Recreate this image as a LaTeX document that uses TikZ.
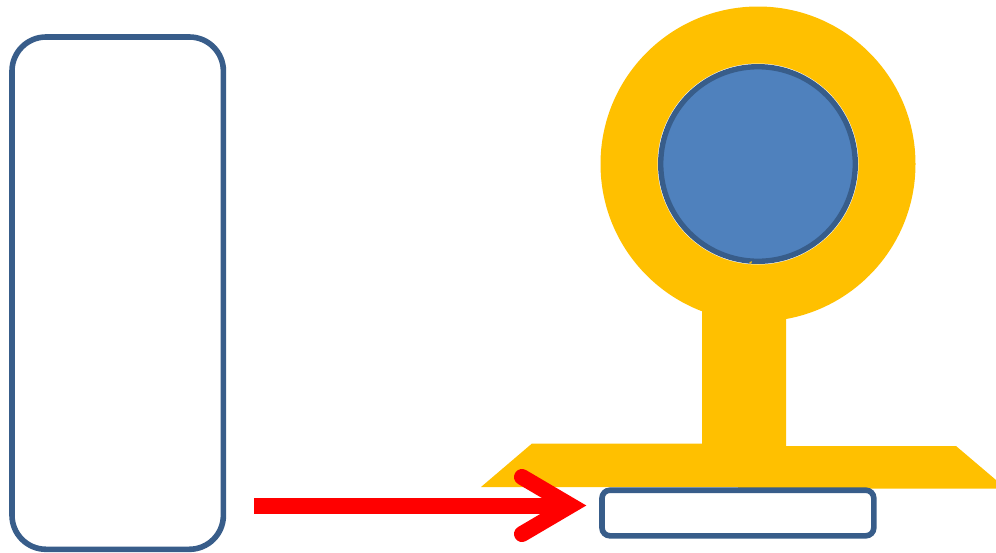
\documentclass[tikz,border=0pt]{standalone}
\definecolor{amber}{HTML}{FFC000}
\definecolor{edgeblue}{HTML}{385D8A}
\definecolor{fillblue}{HTML}{4F81BD}
\tikzset{
  outlinebox/.style={draw=edgeblue,fill=white,line width=5.6pt,rounded corners=#1},
  amberpart/.style={fill=amber,draw=none},
  redstroke/.style={draw=red,line width=16pt},
}
\begin{document}
\begin{tikzpicture}[x=1pt,y=-1pt]
\useasboundingbox (0,0) rectangle (996,552);
\clip (0,0) rectangle (996,552);
% left rounded box
\draw[outlinebox=34pt] (12,37) rectangle (223.4,549.3);
% key shape
\fill[amberpart] (758,164) circle[radius=157.5];
\fill[amberpart] (702,300) -- (786,300) -- (786,446) -- (956,446) -- (1006,488.5)
  -- (738,488.5) -- (738,487) -- (481,487) -- (532,443.5) -- (702,443.5) -- cycle;
\fill[white] (758,164) circle[radius=100.5];
\draw[draw=edgeblue,fill=fillblue,line width=5.4pt] (758,164) circle[radius=97.3];
\fill[amberpart] (749,263) -- (751.5,261) -- (751.5,263.5) -- cycle;
% small box
\draw[outlinebox=8pt] (602,490.2) rectangle (873.8,535.8);
% red arrow
\draw[redstroke] (254,505.5) -- (555,505.5);
\draw[redstroke,line cap=round,line join=miter,miter limit=10] (522,477) -- (570.5,505.5) -- (522,534);
\end{tikzpicture}
\end{document}
